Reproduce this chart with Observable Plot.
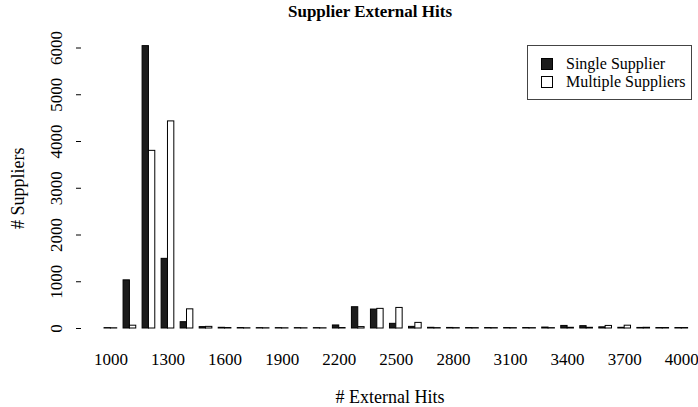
<!DOCTYPE html>
<html><head><meta charset="utf-8">
<script src="https://cdn.jsdelivr.net/npm/d3@7"></script>
<script src="https://cdn.jsdelivr.net/npm/@observablehq/plot@0.6"></script>
<style>
body{margin:0;background:#fff;font-family:"Liberation Serif","DejaVu Serif",serif;color:#000;}
#wrap{position:relative;width:698px;height:407px;overflow:hidden;}
#title{height:24px;line-height:24px;font-weight:bold;font-size:17px;width:740px;text-align:center;}
#legend{position:absolute;left:527px;top:45px;width:165px;height:55px;border:1px solid #444;box-sizing:border-box;font-size:16px;}
.item{position:absolute;left:13px;height:18px;line-height:18px;display:flex;align-items:center;white-space:nowrap;}
.sw{width:10px;height:10px;border:1px solid #000;margin-right:13px;}
</style></head>
<body><div id="wrap"><div id="title">Supplier External Hits</div><div id="chart"></div><div id="legend"></div></div>
<script>
const categories = ["1000","1100","1200","1300","1400","1500","1600","1700","1800","1900","2000","2100","2200","2300","2400","2500","2600","2700","2800","2900","3000","3100","3200","3300","3400","3500","3600","3700","3800","3900","4000"];
const singleSupplier = [8,1030,6040,1490,135,30,15,10,8,8,8,8,65,455,405,100,35,15,12,10,10,10,10,20,55,50,25,15,12,10,10];
const multipleSuppliers = [5,60,3800,4430,410,35,10,5,5,5,5,5,10,30,420,440,120,8,8,8,8,8,8,8,15,15,55,60,15,10,10];
const seriesNames = ["Single Supplier","Multiple Suppliers"];
const seriesFills = ["#1c1c1c","#ffffff"];
const yTicks = [0,1000,2000,3000,4000,5000,6000];
const xTickLabels = ["1000","1300","1600","1900","2200","2500","2800","3100","3400","3700","4000"];

const width = 698, height = 383, marginLeft = 81, marginRight = 0, marginTop = 23.5, marginBottom = 79;
const n = categories.length, pInner = 1/3, pOuter = 0.8786, align = 0.689;
const step = (width - marginLeft - marginRight) / (n - pInner + 2 * pOuter);
const half = step * (1 - pInner) / 2;
const rows = categories.map((c, i) => ({cat: c, single: singleSupplier[i], multiple: multipleSuppliers[i]}));

const chart = Plot.plot({
  width, height, marginLeft, marginRight, marginTop, marginBottom,
  style: {fontFamily: "'Liberation Serif','DejaVu Serif',serif", fontSize: "16px", color: "#000", background: "#fff"},
  x: {type: "band", domain: categories, paddingInner: pInner, paddingOuter: pOuter, align, round: false, axis: null},
  y: {domain: [0, 6000], axis: null},
  marks: [
    Plot.barY(rows, {x: "cat", y: "single", fill: seriesFills[0], stroke: "#000", strokeWidth: 1, insetRight: half}),
    Plot.barY(rows, {x: "cat", y: "multiple", fill: seriesFills[1], stroke: "#000", strokeWidth: 1, insetLeft: half}),
    Plot.axisY({ticks: yTicks, tickFormat: d => String(d), tickSize: 5, tickRotate: -90, tickPadding: 15, fontSize: 17,
      label: null, line: true}),
    Plot.axisY({ticks: [], tickSize: 0, fontSize: 18,
      label: "# Suppliers", labelAnchor: "center", labelOffset: 70, labelArrow: "none"}),
    Plot.axisX({ticks: xTickLabels, tickSize: 0, tickPadding: 24, fontSize: 17, label: null}),
    Plot.axisX({ticks: [], tickSize: 0, fontSize: 18,
      label: "# External Hits", labelAnchor: "center", labelOffset: 74, labelArrow: "none"})
  ]
});
document.getElementById("chart").appendChild(chart);

const legend = document.getElementById("legend");
seriesNames.forEach((name, i) => {
  const item = document.createElement("div");
  item.className = "item";
  item.style.top = (9 + i * 18) + "px";
  const sw = document.createElement("span");
  sw.className = "sw";
  sw.style.background = seriesFills[i];
  const t = document.createElement("span");
  t.textContent = name;
  item.appendChild(sw); item.appendChild(t);
  legend.appendChild(item);
});
</script>
</body></html>
